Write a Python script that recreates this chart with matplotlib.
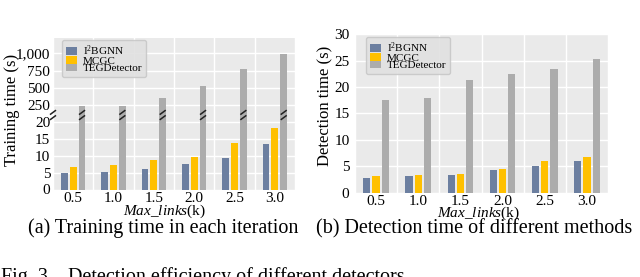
import numpy as np
import matplotlib
matplotlib.use("Agg")
from matplotlib import pyplot as plt
from matplotlib import transforms
from matplotlib.ticker import FuncFormatter

plt.rcParams["font.family"] = ["Liberation Serif", "DejaVu Serif"]
plt.rcParams["mathtext.fontset"] = "custom"
plt.rcParams["mathtext.rm"] = "Liberation Serif"
plt.rcParams["mathtext.it"] = "Liberation Serif:italic"

# ---- data
max_links = ["0.5", "1.0", "1.5", "2.0", "2.5", "3.0"]
methods = ["I$^2$BGNN", "MCGC", "TEGDetector"]

train_i2bgnn = [4.8, 5.3, 6.1, 7.5, 9.3, 13.5]
train_mcgc = [6.5, 7.3, 8.8, 9.7, 13.7, 18.1]
train_teg = [245, 245, 350, 530, 775, 995]

detect_i2bgnn = [2.7, 3.1, 3.3, 4.2, 5.1, 5.9]
detect_mcgc = [3.1, 3.3, 3.6, 4.5, 5.9, 6.8]
detect_teg = [17.5, 18.0, 21.4, 22.4, 23.4, 25.3]

colors = ["#6c7fa0", "#ffc000", "#acacac"]
bg = "#eaeaea"
W, H = 640, 277


def px_box(x0, y0, x1, y1):
    # pixel box (top-left origin) -> figure fraction
    return [x0 / W, 1 - y1 / H, (x1 - x0) / W, (y1 - y0) / H]


def style_axes(ax, xlim):
    ax.set_facecolor(bg)
    for s in ax.spines.values():
        s.set_visible(False)
    ax.set_xlim(*xlim)
    ax.set_xticks(np.arange(len(max_links)))
    ax.set_xticks(np.arange(len(max_links) + 1) - 0.5, minor=True)
    ax.grid(False)
    ax.grid(True, which="minor", axis="x", color="white", lw=1.0)
    ax.grid(True, which="major", axis="y", color="white", lw=1.0)
    ax.set_axisbelow(True)
    ax.tick_params(which="both", length=0, labelsize=11)
    ax.tick_params(axis="y", pad=2)
    ax.tick_params(axis="x", pad=2)


def draw_bars(ax, series):
    x = np.arange(len(max_links))
    off = 0.22
    for k, vals in enumerate(series):
        ax.bar(x + (k - 1) * off, vals, width=0.17, color=colors[k],
               label=methods[k], zorder=2)


def add_legend(ax, anchor):
    leg = ax.legend(loc="upper left", fontsize=8, frameon=True, fancybox=True,
                    handlelength=1.0, handleheight=0.7, handletextpad=0.5,
                    labelspacing=-0.2, borderpad=0.35, borderaxespad=0.0,
                    bbox_to_anchor=anchor)
    leg.get_frame().set_facecolor("#e0e0e0")
    leg.get_frame().set_edgecolor("#c8c8c8")
    leg.get_frame().set_alpha(0.9)
    return leg


fig = plt.figure(figsize=(6.4, 2.77), dpi=100)

# ---- (a) training time, broken y axis
ax_top = fig.add_axes(px_box(53, 38.3, 295, 115))
ax_bot = fig.add_axes(px_box(53, 115, 295, 189.5))
xl = (-0.45, 5.45)
for ax in (ax_top, ax_bot):
    style_axes(ax, xl)
    draw_bars(ax, [train_i2bgnn, train_mcgc, train_teg])

ax_top.set_ylim(110, 1216)
ax_top.set_yticks([250, 500, 750, 1000])
ax_top.yaxis.set_major_formatter(FuncFormatter(lambda v, p: f"{int(v):,}"))
ax_top.tick_params(axis="x", labelbottom=False)
ax_bot.set_ylim(0, 22)
ax_bot.set_yticks([0, 5, 10, 15, 20])
ax_bot.set_xticklabels(max_links)
add_legend(ax_top, (9 / 242, 1 - 1.5 / 76.7))

# break marks on the TEGDetector bars and the y axis
trans = transforms.blended_transform_factory(ax_bot.transData, ax_bot.transAxes)
xs = np.arange(len(max_links)) + 0.22
for xb in list(xs) + [xl[0] - 0.05]:
    for dy in (-0.035, 0.035):
        ax_bot.plot([xb - 0.075, xb + 0.075], [1.0 + dy - 0.03, 1.0 + dy + 0.03],
                    transform=trans, color="#222222", lw=1.1, clip_on=False,
                    zorder=5, solid_capstyle="butt")

fig.text(12 / W, 1 - 110 / H, "Training time (s)", rotation=90,
         ha="center", va="center", fontsize=12)
fig.text(164 / W, 1 - 211 / H, r"$\it{Max\_links}$(k)", ha="center",
         va="center", fontsize=11)
fig.text(163 / W, 1 - 228 / H, "(a) Training time in each iteration",
         ha="center", va="center", fontsize=14.5)

# ---- (b) detection time
ax_r = fig.add_axes(px_box(355, 34.3, 608, 192.5))
style_axes(ax_r, (-0.5, 5.5))
draw_bars(ax_r, [detect_i2bgnn, detect_mcgc, detect_teg])
ax_r.set_ylim(0, 30)
ax_r.set_yticks([0, 5, 10, 15, 20, 25, 30])
ax_r.set_xticklabels(max_links)
ax_r.tick_params(axis="y", pad=4)
add_legend(ax_r, (11 / 253, 1 - 2.4 / 158.2))

fig.text(325 / W, 1 - 106 / H, "Detection time (s)", rotation=90,
         ha="center", va="center", fontsize=12)
fig.text(478 / W, 1 - 213 / H, r"$\it{Max\_links}$(k)", ha="center",
         va="center", fontsize=11)
fig.text(316 / W, 1 - 229 / H, "(b) Detection time of different methods",
         ha="left", va="center", fontsize=14.5)

fig.text(0.002, 1 - 267 / H, "Fig. 3.   Detection efficiency of different detectors",
         ha="left", va="top", fontsize=14.5)

fig.savefig("out.png", dpi=100)
